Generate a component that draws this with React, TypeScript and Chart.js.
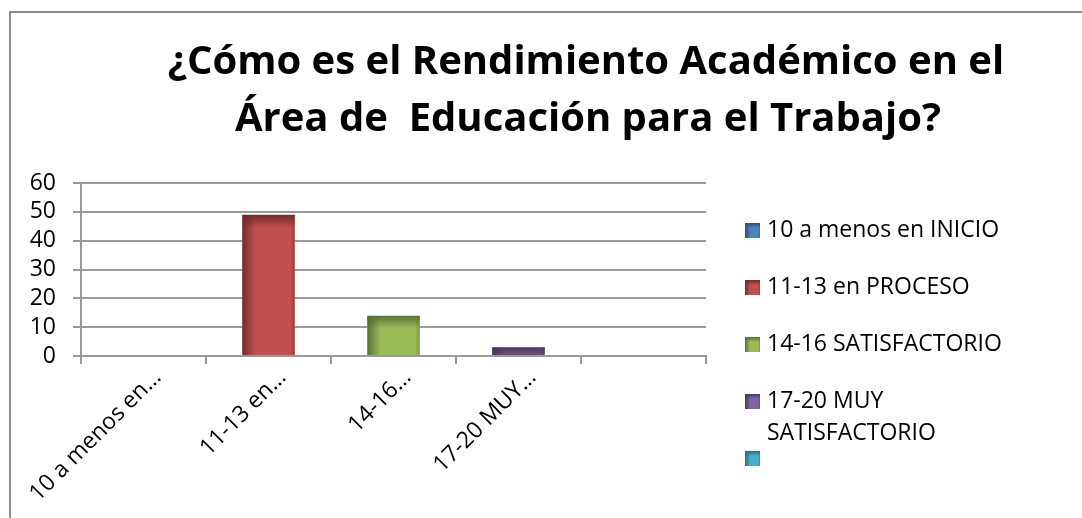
import React, { useEffect, useRef } from "react";
import { Chart, registerables } from "chart.js";

Chart.register(...registerables);

const categories = ["10 a menos en INICIO", "11-13 en PROCESO", "14-16 SATISFACTORIO", "17-20 MUY SATISFACTORIO", ""];
const tickLabels = ["10 a menos en…", "11-13 en…", "14-16…", "17-20 MUY…", ""];
const values: (number | null)[] = [0, 49, 14, 3, null];
const baseColors = ["#4F81BD", "#C0504D", "#9BBB59", "#8064A2", "#4BACC6"];
const darkColors = ["#2C4D75", "#6E2A28", "#566C30", "#46365E", "#276A7C"];
const yTicks = [0, 10, 20, 30, 40, 50, 60];
const titleLines = ["¿Cómo es el Rendimiento Académico en el", "Área de  Educación para el Trabajo?"];
const legendLines = [["10 a menos en INICIO"], ["11-13 en PROCESO"], ["14-16 SATISFACTORIO"], ["17-20 MUY", "SATISFACTORIO"], [""]];

const FONT = "'Open Sans', Lato, sans-serif";

function hexToRgba(hex: string, a: number) {
  const n = parseInt(hex.slice(1), 16);
  return `rgba(${(n >> 16) & 255},${(n >> 8) & 255},${n & 255},${a})`;
}

function shade(ctx: CanvasRenderingContext2D, l: number, t: number, w: number, h: number, dark: string, edge: number) {
  if (h <= 0 || w <= 0) return;
  ctx.save();
  ctx.beginPath();
  ctx.rect(l, t, w, h);
  ctx.clip();
  let g = ctx.createLinearGradient(l, 0, l + edge, 0);
  g.addColorStop(0, hexToRgba(dark, 0.95));
  g.addColorStop(1, hexToRgba(dark, 0));
  ctx.fillStyle = g;
  ctx.fillRect(l, t, edge, h);
  g = ctx.createLinearGradient(0, t, 0, t + edge);
  g.addColorStop(0, hexToRgba(dark, 0.95));
  g.addColorStop(1, hexToRgba(dark, 0));
  ctx.fillStyle = g;
  ctx.fillRect(l, t, w, edge);
  g = ctx.createLinearGradient(l + w - edge / 3, 0, l + w, 0);
  g.addColorStop(0, hexToRgba(dark, 0));
  g.addColorStop(1, hexToRgba(dark, 0.5));
  ctx.fillStyle = g;
  ctx.fillRect(l + w - edge / 3, t, edge / 3, h);
  ctx.restore();
}

const decorPlugin = {
  id: "decor",
  beforeDraw(chart: any) {
    const ctx = chart.ctx as CanvasRenderingContext2D;
    ctx.save();
    ctx.fillStyle = "#ffffff";
    ctx.fillRect(0, 0, chart.width, chart.height);
    ctx.strokeStyle = "#8c8c8c";
    ctx.lineWidth = 2;
    ctx.strokeRect(10, 12, chart.width + 50, chart.height + 50);
    ctx.restore();
  },
  afterDatasetsDraw(chart: any) {
    const ctx = chart.ctx as CanvasRenderingContext2D;
    const meta = chart.getDatasetMeta(0);
    meta.data.forEach((el: any, i: number) => {
      if (values[i] == null || !values[i]) return;
      const p = el.getProps(["x", "y", "base", "width"], true);
      const l = p.x - p.width / 2;
      shade(ctx, l, p.y, p.width, p.base - p.y, darkColors[i], 13);
    });
  },
  afterDraw(chart: any) {
    const ctx = chart.ctx as CanvasRenderingContext2D;
    ctx.save();
    // title
    ctx.fillStyle = "#000";
    ctx.font = `bold 40px ${FONT}`;
    ctx.textAlign = "center";
    ctx.textBaseline = "alphabetic";
    ctx.fillText(titleLines[0], 586, 74);
    ctx.fillText(titleLines[1], 588, 131);
    // legend
    const area = chart.chartArea;
    const lx = area.right + 39;
    let cy = 230;
    ctx.font = `23px ${FONT}`;
    ctx.textAlign = "left";
    ctx.textBaseline = "middle";
    categories.forEach((_c, i) => {
      ctx.fillStyle = baseColors[i];
      ctx.fillRect(lx, cy - 7, 15, 15);
      shade(ctx, lx, cy - 7, 15, 15, darkColors[i], 5);
      ctx.fillStyle = "#000";
      legendLines[i].forEach((line, j) => {
        ctx.fillText(line, lx + 22, cy + j * 32);
      });
      cy += 57;
    });
    ctx.restore();
  },
};

export default function App() {
  const ref = useRef<HTMLCanvasElement>(null);
  useEffect(() => {
    document.body.style.margin = "0";
    Chart.defaults.font.family = FONT;
    const chart = new Chart(ref.current!, {
      type: "bar",
      data: {
        labels: tickLabels,
        datasets: [
          {
            label: "Serie",
            data: values,
            backgroundColor: baseColors,
            borderWidth: 0,
            categoryPercentage: 1,
            barPercentage: 0.42,
          },
        ],
      },
      options: {
        animation: false,
        responsive: false,
        devicePixelRatio: 1,
        layout: { padding: { left: 10, top: 183, right: 376, bottom: 0 } },
        plugins: { legend: { display: false }, title: { display: false }, tooltip: { enabled: false } },
        scales: {
          x: {
            afterFit: (s: any) => {
              s.height = 162;
            },
            grid: { drawOnChartArea: false, drawTicks: true, tickLength: 8, color: "#9a9a9a", lineWidth: 2 },
            border: { display: true, color: "#9a9a9a", width: 2 },
            ticks: {
              autoSkip: false,
              maxRotation: 45,
              minRotation: 45,
              color: "#000",
              font: { size: 23, family: FONT },
              padding: 0,
              labelOffset: 14,
            },
          },
          y: {
            min: yTicks[0],
            max: yTicks[yTicks.length - 1],
            afterFit: (s: any) => {
              s.width = 71;
            },
            afterBuildTicks: (s: any) => {
              s.ticks = yTicks.map((v) => ({ value: v }));
            },
            grid: { color: "#9a9a9a", lineWidth: 2, tickLength: 8 },
            border: { display: true, color: "#9a9a9a", width: 2 },
            ticks: { autoSkip: false, color: "#000", font: { size: 23, family: FONT }, padding: 17 },
          },
        },
      },
      plugins: [decorPlugin],
    });
    return () => chart.destroy();
  }, []);
  return <canvas ref={ref} width={1082} height={518} style={{ display: "block", width: 1082, height: 518 }} />;
}
